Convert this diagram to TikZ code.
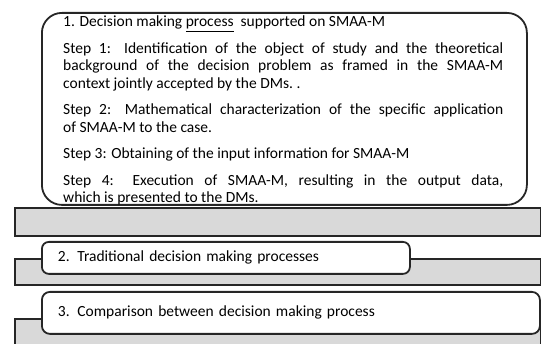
\documentclass[tikz,border=0pt]{standalone}
\usepackage{fontspec}
\setmainfont{Carlito}
\usetikzlibrary{positioning}

\begin{document}
\begin{tikzpicture}[x=1pt,y=-1pt,
  band/.style={draw=black!85,fill=black!15,line width=1.8pt,anchor=north west,inner sep=0pt,minimum width=526pt},
  card/.style={draw=black!85,fill=white,line width=1.8pt,anchor=north west,rounded corners=#1,inner xsep=16pt,inner ysep=0pt,align=left,font=\fontsize{15.5}{17.5}\selectfont},
  card/.default=7pt,
  steps/.style={anchor=north west,inner sep=0pt,text width=440pt,align=justify,font=\fontsize{15.5}{17.3}\selectfont,execute at begin node={\setlength\parskip{9.3pt}\hyphenpenalty=10000}}]
\useasboundingbox (0,0) rectangle (541,344);
\clip (0,0) rectangle (541,344);
% grey bands behind the boxes
\node[band,minimum height=28pt] (g1) at (14,207) {};
\node[band,minimum height=26pt] (g2) at (14,258) {};
\node[band,minimum height=40pt] (g3) at (14,318) {};
% white boxes
\node[card=20pt,minimum width=485pt,minimum height=192pt] (b1) at (41,12) {};
\node[card,minimum width=368pt,minimum height=32pt,text width=336pt] (b2) at (41,241) {2. Traditional decision making processes};
\node[card=8pt,minimum width=498pt,minimum height=42pt,text width=466pt] (b3) at (41,291) {3. Comparison between decision making process};
% text of the first box
\node[steps] (s1) at (63,16) {1. Decision making \underline{process}\ \ supported on SMAA-M\par
Step 1: Identification of the object of study and the theoretical\linebreak background of the decision problem as framed in the SMAA-M\linebreak context jointly accepted by the DMs.\ .\par
Step 2: Mathematical characterization of the specific application\linebreak of SMAA-M to the case.\par
Step 3: Obtaining of the input information for SMAA-M\par
Step 4: Execution of SMAA-M, resulting in the output data,\linebreak which is presented to the DMs.};
\end{tikzpicture}
\end{document}
